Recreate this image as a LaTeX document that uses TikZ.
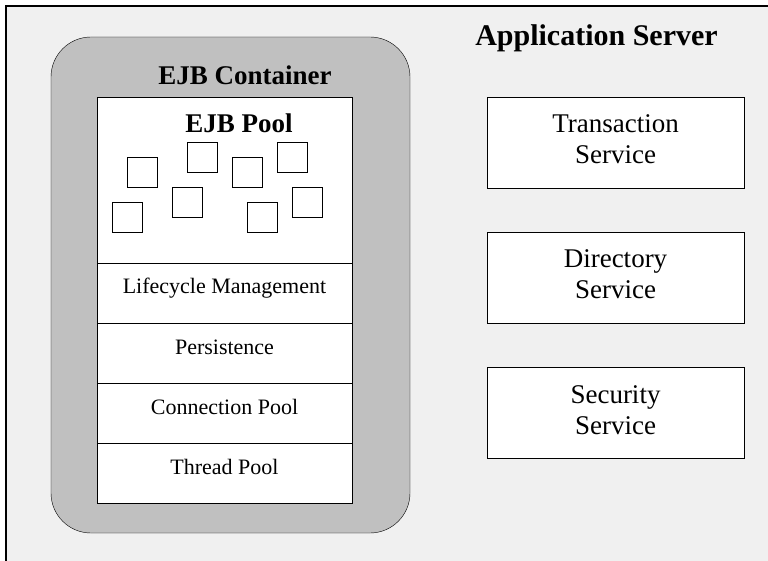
\documentclass[tikz,border=0pt]{standalone}
\usepackage{fontspec}
\setmainfont{Liberation Serif}
\definecolor{srvgray}{RGB}{240,240,240}
\definecolor{ctrgray}{RGB}{192,192,192}
\begin{document}
\begin{tikzpicture}[x=1pt, y=-1pt]
\tikzset{ line width=1.5pt,
  title/.style   ={anchor=base, inner sep=0pt, font=\fontsize{27}{31}\selectfont\bfseries},
  rowbox/.style  ={draw, fill=white, minimum width=255pt, minimum height=60pt, inner sep=0pt,
                   text height=15pt, text depth=13pt, font=\fontsize{22}{26}\selectfont},
  bean/.style    ={draw, fill=white, minimum size=30pt, inner sep=0pt},
  svcbox/.style  ={draw, fill=white, minimum width=257pt, minimum height=91pt, inner sep=0pt},
  svclabel/.style={align=center, inner sep=0pt, font=\fontsize{27}{31}\selectfont},
}
\useasboundingbox (0,0) rectangle (768,561);

\fill [srvgray] (6,6) rectangle (768,561);
\draw [line width=2pt] (6,561) -- (6,6) -- (768,6);

\node [draw, fill=ctrgray, rounded corners=40pt, minimum width=359pt, minimum height=496pt,
       inner sep=0pt] (container) at (230.5,285) {};
\node [draw, fill=white, minimum width=255pt, minimum height=166pt, inner sep=0pt]
       (pool) at (224.5,180) {};

\node [title, font=\fontsize{30}{34}\selectfont\bfseries] (apptitle) at (596.5,46) {Application Server};
\node [title] (ctrtitle) at (245,85) {EJB Container};
\node [title] (pooltitle) at (239,133) {EJB Pool};

\node [bean] (b1) at (142,172) {};
\node [bean] (b2) at (202,157) {};
\node [bean] (b3) at (247,172) {};
\node [bean] (b4) at (292,157) {};
\node [bean] (b5) at (127,217) {};
\node [bean] (b6) at (187,202) {};
\node [bean] (b7) at (262,217) {};
\node [bean] (b8) at (307,202) {};

\node [rowbox] (life)    at (224.5,293) {Lifecycle Management};
\node [rowbox] (persist) at (224.5,353) {Persistence};
\node [rowbox] (conn)    at (224.5,413) {Connection Pool};
\node [rowbox] (thread)  at (224.5,473) {Thread Pool};

\node [svcbox] (trans) at (615.5,142.5) {};
\node [svcbox] (dir)   at (615.5,277.5) {};
\node [svcbox] (sec)   at (615.5,413) {};

\node [svclabel] (transT) at (615.5,139.5) {Transaction\\Service};
\node [svclabel] (dirT)   at (615.5,274.5) {Directory\\Service};
\node [svclabel] (secT)   at (615.5,410) {Security\\Service};

\end{tikzpicture}
\end{document}
